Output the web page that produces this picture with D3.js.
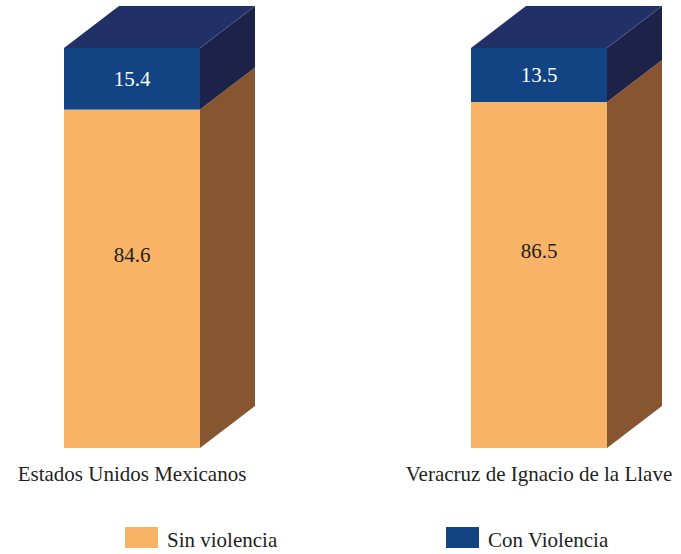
<!DOCTYPE html>
<html>
<head>
<meta charset="utf-8">
<script src="https://cdn.jsdelivr.net/npm/d3@7"></script>
<style>
  body { margin: 0; background: #fff; }
</style>
</head>
<body>
<svg id="chart"></svg>
<script>
const categories = ["Estados Unidos Mexicanos", "Veracruz de Ignacio de la Llave"]
const sinViolencia = [84.6, 86.5]
const conViolencia = [15.4, 13.5]
const seriesNames = ["Sin violencia", "Con Violencia"]

const width = 681
const height = 554
const barWidth = 136
const depthX = 55
const depthY = 42
const serif = "\"Liberation Serif\", \"Times New Roman\", Times, Tinos, \"Noto Serif\", \"DejaVu Serif\", FreeSerif, \"Nimbus Roman\", serif"

const orange = "#F9B366"
const brown = "#875631"
const blue = "#124383"
const blueTop = "#213066"
const blueSide = "#1D2249"

const svg = d3.select("#chart").attr("width", width).attr("height", height)

const xScale = d3.scalePoint().domain(categories).range([132, 539])
const yScale = d3.scaleLinear().domain([0, 100]).range([448, 48])

const data = categories.map((c, i) => ({
  cat: c,
  segs: [
    { y0: 0, y1: sinViolencia[i], v: sinViolencia[i], front: orange, side: brown, text: "#231F20", dy: -17 },
    { y0: sinViolencia[i], y1: sinViolencia[i] + conViolencia[i], v: conViolencia[i], front: blue, side: blueSide, text: "#FFFFFF", dy: 7 }
  ]
}))

const bars = svg.selectAll("g.bar").data(data).enter().append("g").attr("class", "bar")

bars.each(function (d) {
  const g = d3.select(this)
  const x0 = xScale(d.cat) - barWidth / 2
  const x1 = x0 + barWidth

  d.segs.forEach((s) => {
    const yb = yScale(s.y0)
    const yt = yScale(s.y1)
    // side face
    g.append("path")
      .attr("fill", s.side)
      .attr("d", `M${x1},${yb}L${x1 + depthX},${yb - depthY}L${x1 + depthX},${yt - depthY}L${x1},${yt}Z`)
    // front face
    g.append("rect")
      .attr("x", x0).attr("y", yt)
      .attr("width", barWidth).attr("height", yb - yt)
      .attr("fill", s.front)
    g.append("text")
      .attr("x", xScale(d.cat))
      .attr("y", (yb + yt) / 2 + s.dy)
      .attr("text-anchor", "middle")
      .style("font-family", serif)
      .attr("font-size", 21)
      .attr("fill", s.text)
      .text(s.v.toFixed(1))
  })

  // top face
  const top = yScale(d.segs[1].y1)
  g.append("path")
    .attr("fill", blueTop)
    .attr("d", `M${x0},${top}L${x0 + depthX},${top - depthY}L${x1 + depthX},${top - depthY}L${x1},${top}Z`)
  g.append("line")
    .attr("x1", x1).attr("y1", top).attr("x2", x1 + depthX).attr("y2", top - depthY)
    .attr("stroke", "#4a5a8a").attr("stroke-width", 0.8)
})

// category labels
svg.append("g")
  .selectAll("text")
  .data(categories)
  .enter()
  .append("text")
  .attr("x", (d) => xScale(d))
  .attr("y", 481)
  .attr("text-anchor", "middle")
  .style("font-family", serif)
  .attr("font-size", 21)
  .attr("fill", "#231F20")
  .text((d) => d)

// legend
const legendX = [125, 446]
const legendColors = [orange, blue]
const legend = svg.append("g")
  .selectAll("g")
  .data(seriesNames)
  .enter()
  .append("g")
  .attr("transform", (d, i) => `translate(${legendX[i]},527)`)

legend.append("rect")
  .attr("width", 33).attr("height", 21)
  .attr("fill", (d, i) => legendColors[i])

legend.append("text")
  .attr("x", 42).attr("y", 20)
  .style("font-family", serif)
  .attr("font-size", 21)
  .attr("fill", "#231F20")
  .text((d) => d)
</script>
</body>
</html>
